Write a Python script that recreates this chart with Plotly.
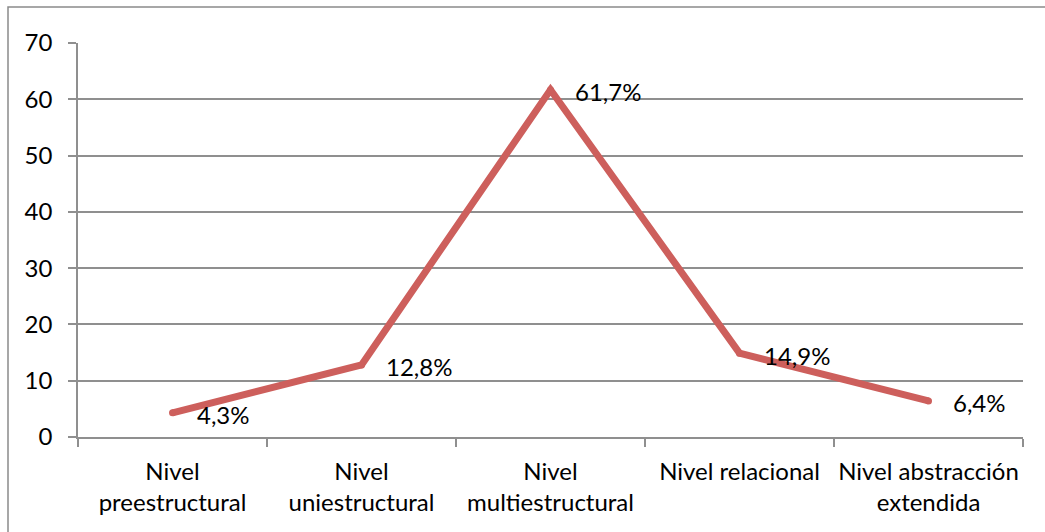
import plotly.graph_objects as go

# SOLO taxonomy levels and the share of responses at each level (%)
categorias = [
    "Nivel<br>preestructural",
    "Nivel<br>uniestructural",
    "Nivel<br>multiestructural",
    "Nivel relacional",
    "Nivel abstracción<br>extendida",
]
porcentajes = [4.3, 12.8, 61.7, 14.9, 6.4]
etiquetas = [f"{v:.1f}%".replace(".", ",") for v in porcentajes]
ticks_y = [0, 10, 20, 30, 40, 50, 60, 70]

FONT = "Lato"
FS = 24
GRID = "#8f8f8f"
ROJO = "#CD5F5C"

fig = go.Figure(
    go.Scatter(
        x=categorias,
        y=porcentajes,
        mode="lines+markers",
        line=dict(color=ROJO, width=7),
        marker=dict(color=ROJO, size=7, line=dict(width=0)),
        hoverinfo="skip",
    )
)

# value labels to the right of each point
for cat, val, txt in zip(categorias, porcentajes, etiquetas):
    fig.add_annotation(
        x=cat,
        y=val,
        text=txt,
        showarrow=False,
        xanchor="left",
        yanchor="middle",
        xshift=22,
        yshift=-2,
        font=dict(family=FONT, size=FS, color="#000000"),
    )

W, H = 1045, 532
L, R, T, B = 78, 22, 43, 95
pw, ph = W - L - R, H - T - B

fig.update_layout(
    width=W,
    height=H,
    margin=dict(l=L, r=R, t=T, b=B),
    paper_bgcolor="white",
    plot_bgcolor="white",
    showlegend=False,
    font=dict(family=FONT, size=FS, color="#000000"),
    xaxis=dict(
        type="category",
        tickson="boundaries",
        ticks="outside",
        ticklen=8,
        tickcolor=GRID,
        tickwidth=1.5,
        showline=True,
        linecolor=GRID,
        linewidth=1.5,
        showgrid=False,
        zeroline=False,
        range=[-0.5, 4.5],
        tickangle=0,
        automargin=False,
        tickfont=dict(family=FONT, size=FS),
        ticklabelstandoff=12,
    ),
    yaxis=dict(
        range=[0, 70],
        tickvals=ticks_y,
        ticks="outside",
        ticklen=8,
        tickcolor=GRID,
        tickwidth=1.5,
        showline=True,
        linecolor=GRID,
        linewidth=1.5,
        showgrid=True,
        gridcolor=GRID,
        gridwidth=1.5,
        zeroline=False,
        automargin=False,
        tickfont=dict(family=FONT, size=FS),
        ticklabelstandoff=11,
    ),
    shapes=[
        # outer chart frame
        dict(
            type="rect",
            xref="paper",
            yref="paper",
            x0=(8 - L) / pw,
            x1=(W + 10 - L) / pw,
            y0=-(H + 10 - T - ph) / ph,
            y1=(T + ph - 7) / ph,
            line=dict(color="#8a8a8a", width=1.5),
            layer="below",
        )
    ],
)

fig.write_html("out.html")
